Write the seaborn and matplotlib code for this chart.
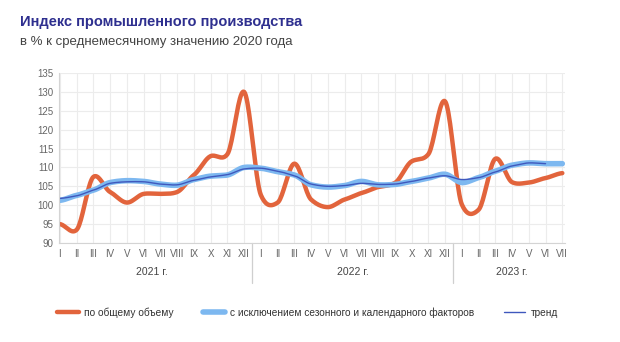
import numpy as np
import pandas as pd
import matplotlib
matplotlib.use("Agg")
import matplotlib.pyplot as plt
import seaborn as sns

# Monthly data, Jan 2021 - Jul 2023
months = ["I", "II", "III", "IV", "V", "VI", "VII", "VIII", "IX", "X", "XI", "XII",
          "I", "II", "III", "IV", "V", "VI", "VII", "VIII", "IX", "X", "XI", "XII",
          "I", "II", "III", "IV", "V", "VI", "VII"]
years = ["2021 г.", "2022 г.", "2023 г."]
year_lengths = [12, 12, 7]

total_volume = [95.0, 93.5, 107.5, 103.5, 100.7, 103.0, 103.0, 103.5, 108.0, 113.0, 113.5, 130.0,
                102.7, 100.7, 111.0, 101.5, 99.5, 101.5, 103.2, 104.8, 105.9, 111.6, 113.5, 127.5,
                100.2, 98.8, 112.3, 106.1, 106.0, 107.2, 108.5]
seasonally_adj = [101.3, 102.6, 104.0, 106.0, 106.5, 106.3, 105.6, 105.3, 106.8, 107.7, 108.0, 110.0,
                  109.8, 108.9, 108.0, 105.4, 104.8, 105.2, 106.3, 105.4, 105.5, 106.3, 107.2, 108.2,
                  106.0, 107.3, 109.0, 110.6, 111.2, 111.0, 111.0]
trend = [101.8, 102.5, 104.0, 105.8, 106.2, 106.2, 105.6, 105.4, 106.6, 107.5, 108.1, 109.6,
         109.8, 109.0, 107.8, 105.6, 105.0, 105.2, 105.8, 105.5, 105.6, 106.3, 107.2, 107.8,
         106.8, 107.3, 108.8, 110.4, 111.2, 111.0]

labels = ["по общему объему", "с исключением сезонного и календарного факторов", "тренд"]
colors = ["#e2643c", "#7db8f0", "#3f58bd"]
widths = [3.2, 4.0, 1.0]


def smooth(values, per_segment=20, tension=0.35):
    """Cardinal-spline path through the monthly points (rendering only)."""
    y = np.asarray(values, dtype=float)
    x = np.arange(len(y), dtype=float)
    xs, ys = [], []
    for i in range(len(y) - 1):
        p0 = y[i - 1] if i > 0 else y[i]
        p3 = y[i + 2] if i + 2 < len(y) else y[i + 1]
        m1 = tension * (y[i + 1] - p0)
        m2 = tension * (p3 - y[i])
        t = np.linspace(0, 1, per_segment, endpoint=False)
        h00 = 2 * t**3 - 3 * t**2 + 1
        h10 = t**3 - 2 * t**2 + t
        h01 = -2 * t**3 + 3 * t**2
        h11 = t**3 - t**2
        ys.append(h00 * y[i] + h10 * m1 + h01 * y[i + 1] + h11 * m2)
        xs.append(x[i] + t)
    xs.append([x[-1]])
    ys.append([y[-1]])
    return np.concatenate(xs), np.concatenate(ys)


sns.set_theme(style="white")
plt.rcParams["font.family"] = ["Liberation Sans", "DejaVu Sans"]

fig = plt.figure(figsize=(6.2, 3.42), dpi=100)
ax = fig.add_axes([0.095, 0.2895, 0.816, 0.497])

frames = []
for name, series in zip(labels, [total_volume, seasonally_adj, trend]):
    sx, sy = smooth(series)
    frames.append(pd.DataFrame({"x": sx, "y": sy, "series": name}))
df = pd.concat(frames, ignore_index=True)

for name, col, lw in zip(labels, colors, widths):
    sub = df[df["series"] == name]
    sns.lineplot(data=sub, x="x", y="y", ax=ax, color=col, linewidth=lw,
                 label=name, sort=False, solid_capstyle="round")

ax.set_xlim(-0.06, 30.15)
ax.set_ylim(90, 135)
ax.set_yticks(np.arange(90, 136, 5))
ax.set_xticks(np.arange(len(months)))
ax.set_xticklabels(months)
ax.set_xlabel("")
ax.set_ylabel("")
ax.grid(True, color="#ececec", linewidth=0.8)
ax.set_axisbelow(True)
for side in ["top", "right"]:
    ax.spines[side].set_visible(False)
for side in ["left", "bottom"]:
    ax.spines[side].set_color("#d4d4d4")
    ax.spines[side].set_linewidth(0.8)
ax.tick_params(axis="both", length=0, labelsize=7, colors="#666666", pad=4)

# year captions and separators under the month labels
start = 0
for yr, n in zip(years, year_lengths):
    centre = start + (n - 1) / 2
    ax.text(centre, -0.17, yr, transform=ax.get_xaxis_transform(),
            ha="center", va="center", fontsize=7.5, color="#444444")
    if start > 0:
        ax.plot([start - 0.5, start - 0.5], [0, -0.235], transform=ax.get_xaxis_transform(),
                color="#cfcfcf", linewidth=0.9, clip_on=False)
    start += n

ax.legend(loc="center left", bbox_to_anchor=(-0.013, -0.41), ncol=3, frameon=False,
          fontsize=7.3, handlelength=2.1, columnspacing=2.9, handletextpad=0.55,
          borderpad=0, labelcolor="#333333")

fig.text(0.032, 0.935, "Индекс промышленного производства", fontsize=10.5,
         fontweight="bold", color="#2e2f8f", ha="left", va="center")
fig.text(0.032, 0.878, "в % к среднемесячному значению 2020 года", fontsize=9.5,
         color="#444444", ha="left", va="center")

fig.savefig("out.png", dpi=100, facecolor="white")
